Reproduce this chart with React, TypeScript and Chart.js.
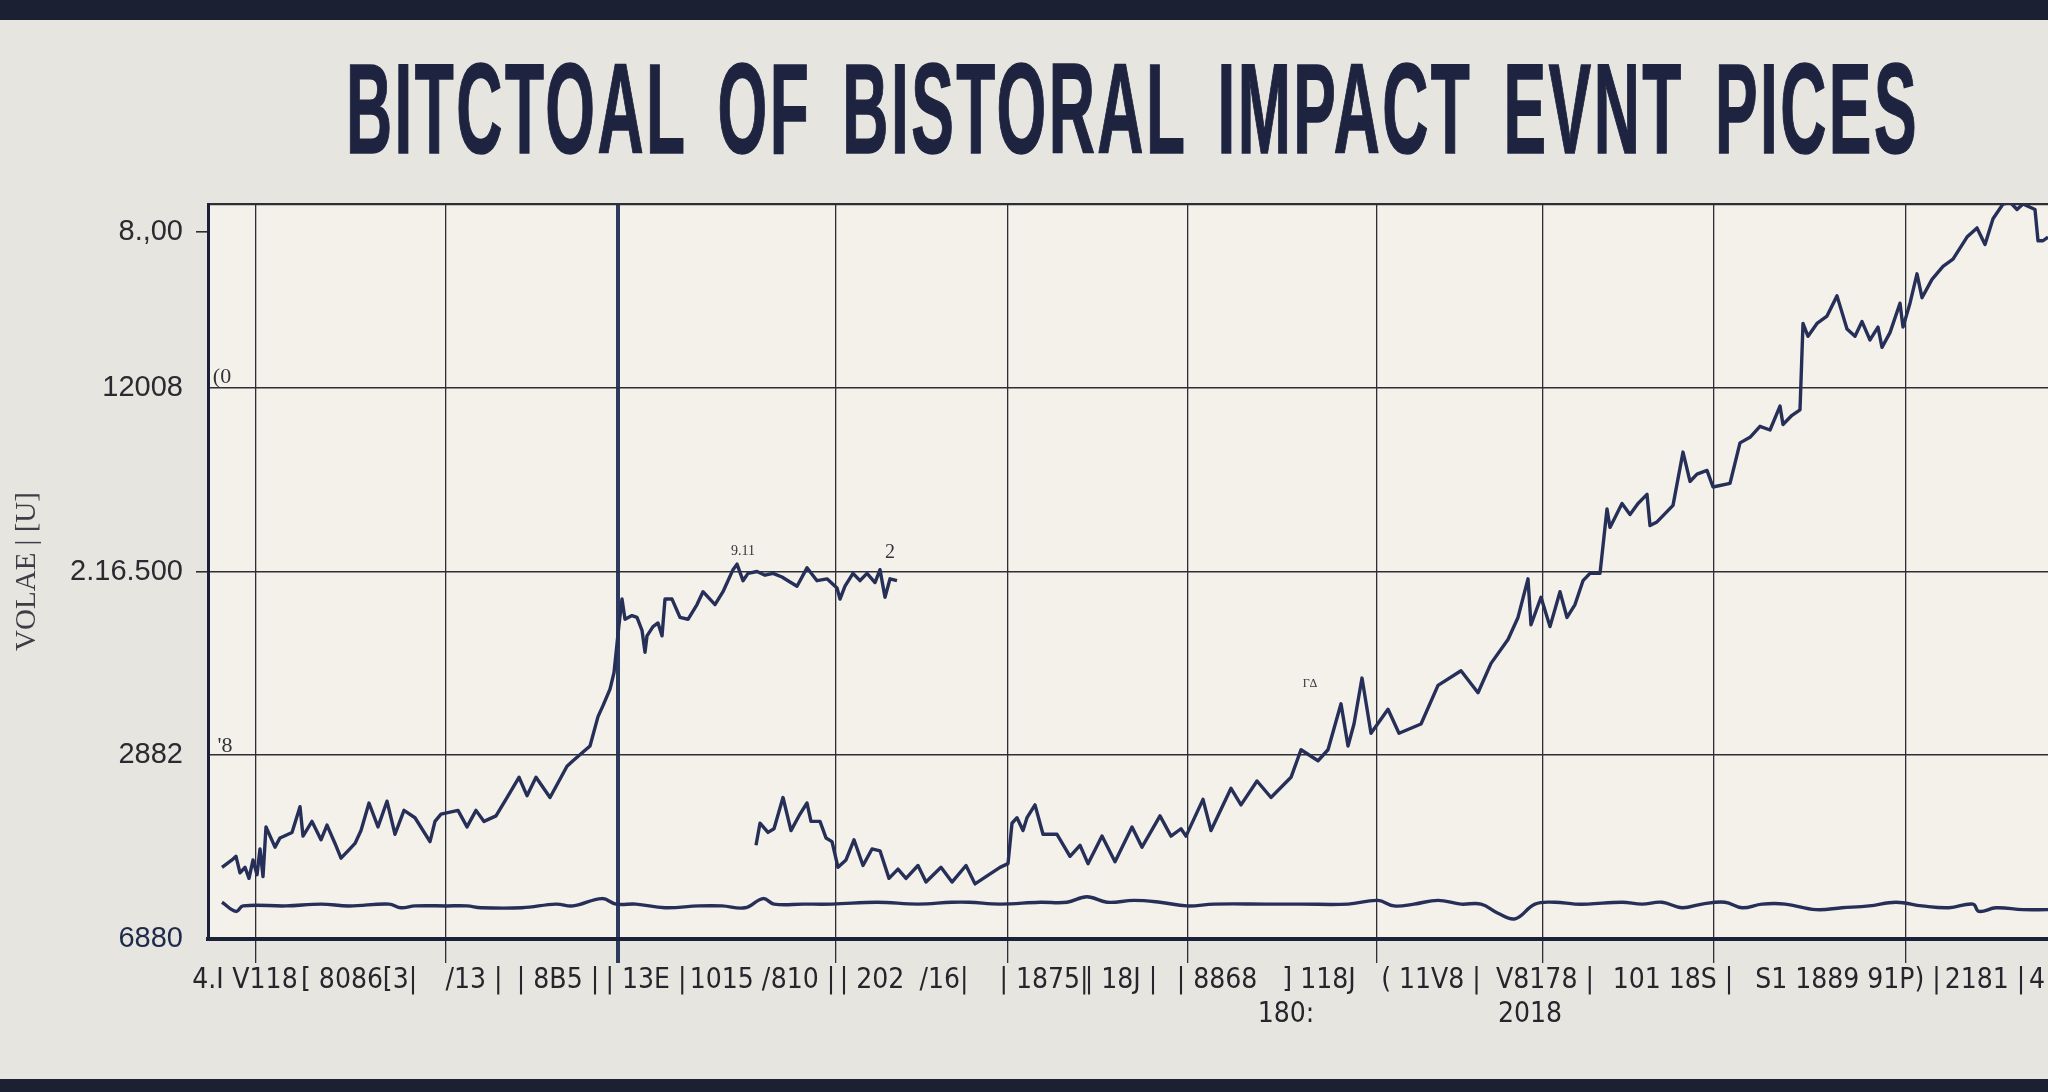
import React, { useEffect, useLayoutEffect, useRef } from "react";
import { Chart, registerables } from "chart.js";

Chart.register(...registerables);

// ---------- text ----------
const TITLE = "BITCTOAL OF BISTORAL IMPACT EVNT PICES";
const Y_AXIS_TITLE = "VOLAE | [U]";

// ---------- y axis ----------
const Y_MIN = 0;
const Y_MAX = 4;
const Y_TICK_VALUES = [0, 1, 2, 3, 3.85, 4];
const Y_TICK_LABELS = ["6880", "2882", "2.16.500", "12008", "8.,00", ""];
const Y_TICKS_WITH_MARK = [2, 3.85];
const Y_HIDDEN_GRID = [3.85];

// ---------- x axis ----------
const X_MIN = 0;
const X_MAX = 1840;
const X_GRID_VALUES = [48, 238, 410, 628, 800, 980, 1169, 1335, 1506, 1698];
const X_EVENT_LINE = 410;
const X_LABEL_VALUES = [0, 57, 134, 192, 266, 350, 438, 522, 595, 664, 736, 836, 913, 1009, 1111, 1223, 1337, 1465, 1640, 1777, 1829];
const X_LABELS = [
  "4.I", "V118", "[ 8086", "[3|", "/13 |", "| 8B5 |", "| 13E |", "1015 /", "810 |", "| 202", "/16|",
  "| 1875|", "| 18J |", "| 8868", "] 118J", "( 11V8 |", "V8178 |", "101 18S |", "S1 1889 91P) |", "2181 |", "4",
];
const X_ROW2_VALUES = [1078, 1322];
const X_ROW2_LABELS = ["180:", "2018"];

// ---------- series (x, value) ----------
const PRICE_SEGMENT_1: [number, number][] = [
  [14, 0.39], [24, 0.43], [28, 0.45], [32, 0.36], [37, 0.39], [41, 0.33], [45, 0.43], [49, 0.35], [52, 0.49], [55, 0.34],
  [58, 0.61], [67, 0.5], [72, 0.55], [84, 0.58], [92, 0.72], [95, 0.56], [104, 0.64], [113, 0.54], [119, 0.62], [127, 0.52],
  [133, 0.44], [140, 0.48], [147, 0.52], [153, 0.59], [161, 0.74], [170, 0.61], [179, 0.75], [187, 0.57], [196, 0.7], [207, 0.66],
  [222, 0.53], [227, 0.64], [233, 0.68], [250, 0.7], [259, 0.61], [268, 0.7], [276, 0.64], [288, 0.67], [299, 0.77], [311, 0.88],
  [319, 0.78], [328, 0.88], [342, 0.77], [351, 0.86], [359, 0.94], [365, 0.97], [382, 1.05], [390, 1.21], [395, 1.27], [402, 1.36],
  [406, 1.45], [411, 1.71], [414, 1.85], [417, 1.74], [424, 1.76], [429, 1.75], [434, 1.68], [437, 1.56], [439, 1.65], [445, 1.7],
  [450, 1.72], [454, 1.65], [457, 1.85], [464, 1.85], [472, 1.75], [480, 1.74], [489, 1.82], [495, 1.89], [507, 1.82], [515, 1.89],
  [525, 2.01], [529, 2.04], [535, 1.95], [540, 1.99], [549, 2.0], [557, 1.98], [565, 1.99], [574, 1.97], [580, 1.95], [589, 1.92],
  [599, 2.02], [609, 1.95], [619, 1.96], [629, 1.91], [632, 1.85], [637, 1.92], [645, 1.99], [652, 1.95], [659, 1.99], [667, 1.94],
  [672, 2.01], [677, 1.86], [682, 1.96], [689, 1.95],
];

const PRICE_SEGMENT_2: [number, number][] = [
  [548, 0.51], [552, 0.63], [560, 0.58], [566, 0.6], [575, 0.77], [583, 0.59], [592, 0.68], [599, 0.74], [603, 0.64], [612, 0.64],
  [618, 0.55], [624, 0.53], [630, 0.39], [638, 0.43], [646, 0.54], [655, 0.4], [664, 0.49], [672, 0.48], [681, 0.33], [690, 0.38],
  [698, 0.33], [710, 0.4], [718, 0.31], [733, 0.39], [744, 0.31], [758, 0.4], [767, 0.3], [781, 0.35], [792, 0.39], [800, 0.41],
  [804, 0.63], [809, 0.66], [815, 0.59], [819, 0.66], [827, 0.73], [835, 0.57], [849, 0.57], [862, 0.45], [872, 0.51], [880, 0.41],
  [894, 0.56], [907, 0.42], [924, 0.61], [934, 0.5], [952, 0.67], [963, 0.56], [973, 0.6], [978, 0.56], [995, 0.76], [1003, 0.59],
  [1023, 0.82], [1033, 0.73], [1049, 0.86], [1063, 0.77], [1083, 0.88], [1093, 1.03], [1110, 0.97], [1120, 1.03], [1133, 1.28], [1140, 1.05],
  [1146, 1.17], [1154, 1.42], [1163, 1.12], [1180, 1.25], [1191, 1.12], [1213, 1.17], [1230, 1.38], [1253, 1.46], [1270, 1.34], [1283, 1.5],
  [1300, 1.63], [1310, 1.75], [1320, 1.96], [1323, 1.71], [1333, 1.86], [1342, 1.7], [1352, 1.89], [1359, 1.75], [1367, 1.82], [1375, 1.95],
  [1382, 1.99], [1392, 1.99], [1399, 2.34], [1402, 2.24], [1414, 2.37], [1422, 2.31], [1430, 2.37], [1439, 2.42], [1442, 2.25], [1449, 2.27],
  [1465, 2.36], [1475, 2.65], [1482, 2.49], [1489, 2.53], [1499, 2.55], [1505, 2.46], [1522, 2.48], [1532, 2.7], [1542, 2.73], [1552, 2.79],
  [1562, 2.77], [1572, 2.9], [1575, 2.8], [1584, 2.85], [1592, 2.88], [1595, 3.35], [1600, 3.28], [1609, 3.35], [1619, 3.39], [1629, 3.5],
  [1639, 3.32], [1647, 3.28], [1654, 3.36], [1662, 3.26], [1670, 3.33], [1674, 3.22], [1682, 3.3], [1692, 3.46], [1695, 3.33], [1702, 3.46],
  [1709, 3.62], [1714, 3.49], [1724, 3.59], [1735, 3.66], [1745, 3.7], [1759, 3.82], [1769, 3.87], [1777, 3.78], [1785, 3.92], [1795, 4.0],
  [1802, 4.01], [1809, 3.97], [1815, 4.0], [1827, 3.97], [1830, 3.8], [1835, 3.8], [1840, 3.82],
];

const BASELINE: [number, number][] = [
  [14, 0.2], [28, 0.15], [35, 0.18], [78, 0.18], [113, 0.19], [141, 0.18], [181, 0.19], [193, 0.17], [207, 0.18], [239, 0.18],
  [259, 0.18], [273, 0.17], [314, 0.17], [348, 0.19], [365, 0.18], [394, 0.22], [408, 0.19], [428, 0.19], [457, 0.17], [491, 0.18],
  [514, 0.18], [537, 0.17], [555, 0.22], [566, 0.19], [595, 0.19], [624, 0.19], [669, 0.2], [710, 0.19], [744, 0.2], [761, 0.2],
  [792, 0.19], [832, 0.2], [859, 0.2], [879, 0.23], [899, 0.2], [926, 0.21], [952, 0.2], [979, 0.18], [1006, 0.19], [1059, 0.19],
  [1093, 0.19], [1140, 0.19], [1170, 0.21], [1186, 0.18], [1206, 0.19], [1230, 0.21], [1253, 0.19], [1273, 0.19], [1290, 0.14], [1307, 0.11],
  [1327, 0.19], [1347, 0.2], [1367, 0.19], [1380, 0.19], [1414, 0.2], [1434, 0.19], [1454, 0.2], [1474, 0.17], [1494, 0.19], [1517, 0.2],
  [1534, 0.17], [1554, 0.19], [1577, 0.19], [1608, 0.16], [1634, 0.17], [1661, 0.18], [1688, 0.2], [1714, 0.18], [1741, 0.17], [1765, 0.19],
  [1771, 0.15], [1788, 0.17], [1815, 0.16], [1840, 0.16],
];

// ---------- small in-plot notes ----------
const NOTE_TEXTS = ["(0", "'8", "9.11", "2", "Γ∆"];
const NOTE_X = [14, 17, 535, 682, 1102];
const NOTE_Y = [3.06, 1.05, 2.11, 2.1, 1.39];
const NOTE_SIZES = [22, 22, 14, 20, 12];

// ---------- style ----------
const NAVY = "#262f58";
const GRID = "#2e2e36";
const AXIS = "#1b2136";
const PAGE_BG = "#e7e5e0";
const PLOT_BG = "#f4f1ea";
const BAND = "#1b2133";
const W = 2048;
const H = 1092;
const TITLE_LEFT = 346;
const TITLE_WIDTH = 1573;

const toPoints = (arr: [number, number][]) => arr.map(([x, y]) => ({ x, y }));

const ALL_X_TICKS = Array.from(new Set([...X_GRID_VALUES, ...X_LABEL_VALUES, ...X_ROW2_VALUES])).sort((a, b) => a - b);

function xLabel(v: number): string | string[] {
  const i = X_LABEL_VALUES.indexOf(v);
  if (i >= 0) return X_LABELS[i];
  const j = X_ROW2_VALUES.indexOf(v);
  if (j >= 0) return ["", X_ROW2_LABELS[j]];
  return "";
}
function yLabel(v: number): string {
  const i = Y_TICK_VALUES.indexOf(v);
  return i >= 0 ? Y_TICK_LABELS[i] : "";
}

const plotBackground = {
  id: "plotBackground",
  beforeDraw(chart: any) {
    const { ctx, chartArea } = chart;
    ctx.save();
    ctx.fillStyle = PLOT_BG;
    ctx.fillRect(chartArea.left, chartArea.top, chartArea.right - chartArea.left, chartArea.bottom - chartArea.top);
    ctx.restore();
  },
};

const notesPlugin = {
  id: "notes",
  afterDatasetsDraw(chart: any) {
    const { ctx, scales } = chart;
    ctx.save();
    ctx.fillStyle = "#33333a";
    ctx.textAlign = "center";
    ctx.textBaseline = "middle";
    NOTE_TEXTS.forEach((t, i) => {
      ctx.font = `${NOTE_SIZES[i]}px 'Liberation Serif', serif`;
      ctx.fillText(t, scales.x.getPixelForValue(NOTE_X[i]), scales.y.getPixelForValue(NOTE_Y[i]));
    });
    ctx.restore();
  },
};

export default function App() {
  const canvasRef = useRef<HTMLCanvasElement>(null);
  const titleRef = useRef<HTMLSpanElement>(null);

  useLayoutEffect(() => {
    const el = titleRef.current;
    if (!el) return;
    el.style.transform = "none";
    const w = el.getBoundingClientRect().width;
    if (w > 0) el.style.transform = `scaleX(${TITLE_WIDTH / w})`;
  }, []);

  useEffect(() => {
    const canvas = canvasRef.current;
    if (!canvas) return;
    const lineStyle = { borderColor: NAVY, borderWidth: 3.4, pointRadius: 0, fill: false, borderJoinStyle: "round" as const };
    const chart = new Chart(canvas, {
      type: "line",
      data: {
        datasets: [
          { label: "Price (early)", data: toPoints(PRICE_SEGMENT_1), tension: 0, ...lineStyle },
          { label: "Price (later)", data: toPoints(PRICE_SEGMENT_2), tension: 0, ...lineStyle },
          { label: "Baseline", data: toPoints(BASELINE), tension: 0.4, ...lineStyle },
        ],
      },
      options: {
        animation: false,
        responsive: false,
        parsing: false as any,
        layout: { padding: { top: 204, left: 0, right: 0, bottom: 0 } },
        plugins: { legend: { display: false }, title: { display: false }, tooltip: { enabled: false } },
        scales: {
          x: {
            type: "linear",
            min: X_MIN,
            max: X_MAX,
            afterBuildTicks: (s: any) => {
              s.ticks = ALL_X_TICKS.map((v) => ({ value: v }));
            },
            afterFit: (s: any) => {
              s.height = 153;
            },
            grid: {
              drawTicks: true,
              tickLength: 24,
              color: (c: any) => (X_GRID_VALUES.includes(c.tick?.value) ? (c.tick.value === X_EVENT_LINE ? "#2b3a5e" : GRID) : "rgba(0,0,0,0)"),
              tickColor: (c: any) => (X_GRID_VALUES.includes(c.tick?.value) ? (c.tick.value === X_EVENT_LINE ? "#2b3a5e" : GRID) : "rgba(0,0,0,0)"),
              lineWidth: (c: any) => (c.tick?.value === X_EVENT_LINE ? 4 : 1.3),
              tickWidth: (c: any) => (c.tick?.value === X_EVENT_LINE ? 4 : 1.3),
            },
            border: { display: true, color: AXIS, width: 4 },
            ticks: {
              autoSkip: false,
              maxRotation: 0,
              minRotation: 0,
              padding: 1,
              color: "#25252c",
              font: { family: "'Liberation Sans Narrow', 'DejaVu Sans Condensed', 'Liberation Sans', sans-serif", size: 28 },
              callback: (v: any) => xLabel(Number(v)),
            },
          },
          y: {
            type: "linear",
            min: Y_MIN,
            max: Y_MAX,
            afterBuildTicks: (s: any) => {
              s.ticks = Y_TICK_VALUES.map((v) => ({ value: v }));
            },
            afterFit: (s: any) => {
              s.width = 208;
            },
            grid: {
              drawTicks: true,
              tickLength: 12,
              color: (c: any) => (Y_HIDDEN_GRID.includes(c.tick?.value) ? "rgba(0,0,0,0)" : GRID),
              lineWidth: (c: any) => (c.tick?.value === Y_MAX ? 2.2 : 1.6),
              tickColor: (c: any) => (Y_TICKS_WITH_MARK.includes(c.tick?.value) ? GRID : "rgba(0,0,0,0)"),
            },
            border: { display: true, color: AXIS, width: 3 },
            ticks: {
              padding: 13,
              color: (c: any) => (c.tick?.value === 0 ? "#1e2a4a" : "#2a2a30"),
              font: { family: "'Liberation Sans', Arial, sans-serif", size: 29 },
              callback: (v: any) => yLabel(Number(v)),
            },
            title: {
              display: true,
              text: Y_AXIS_TITLE,
              color: "#3d3d45",
              font: { family: "'Liberation Serif', serif", size: 29 },
              padding: { top: 10, bottom: 0 },
            },
          },
        },
      },
      plugins: [plotBackground, notesPlugin],
    });
    return () => chart.destroy();
  }, []);

  return (
    <div style={{ position: "fixed", left: 0, top: 0, width: W, height: H, background: PAGE_BG, overflow: "hidden" }}>
      <div style={{ position: "absolute", left: 0, top: 0, width: W, height: 20, background: BAND }} />
      <div style={{ position: "absolute", left: 0, top: 1079, width: W, height: H - 1079, background: BAND }} />
      <canvas ref={canvasRef} width={W} height={H} style={{ position: "absolute", left: 0, top: 0, display: "block" }} />
      <div style={{ position: "absolute", left: TITLE_LEFT, top: 45, whiteSpace: "pre" }}>
        <span
          ref={titleRef}
          style={{
            display: "inline-block",
            transformOrigin: "left top",
            fontFamily: "'Liberation Sans Narrow', 'Liberation Sans', Arial, sans-serif",
            fontWeight: 700,
            fontSize: 128,
            lineHeight: "128px",
            color: "#1e2440",
            WebkitTextStroke: "1.5px #1e2440",
            letterSpacing: 5,
            wordSpacing: 22,
          }}
        >
          {TITLE}
        </span>
      </div>
    </div>
  );
}
